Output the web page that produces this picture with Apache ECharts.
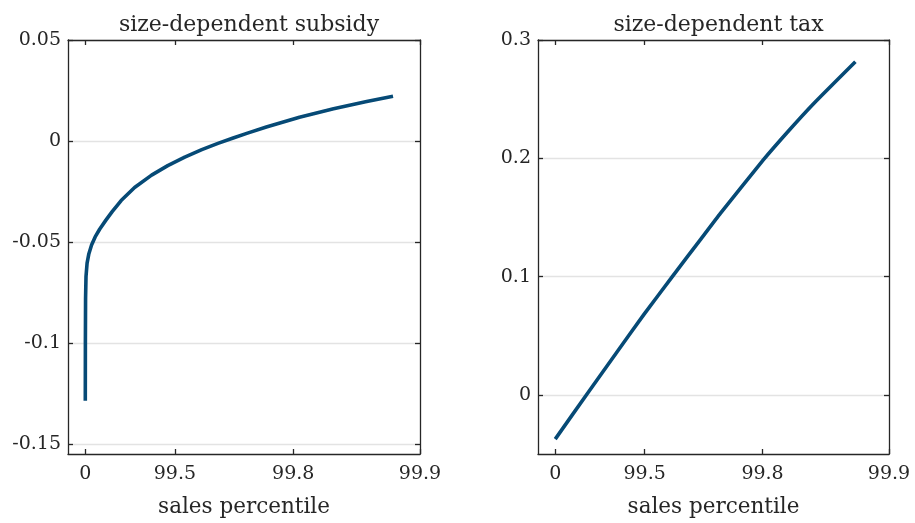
<!DOCTYPE html>
<html>
<head>
<meta charset="utf-8">
<script src="https://cdn.jsdelivr.net/npm/echarts@6/dist/echarts.min.js"></script>
<style>
  html, body { margin: 0; padding: 0; background: #fff; }
  #main { width: 915px; height: 523px; }
</style>
</head>
<body>
<div id="main"></div>
<script>
// x axis is drawn in "tick units": the percentile ticks are not evenly spaced
var xTickPos = [0, 1, 2.32, 3.735]
var xTickLabels = ['0', '99.5', '99.8', '99.9']

// size-dependent subsidy (left panel)
var subsidyX = [0, 0.001, 0.003, 0.008, 0.02, 0.04, 0.07, 0.11, 0.16, 0.23, 0.30, 0.40, 0.55, 0.74, 0.92, 1.11, 1.30, 1.48, 1.65, 1.81, 2.02, 2.39, 2.77, 3.14, 3.434]
var subsidyY = [-0.1286, -0.100, -0.078, -0.067, -0.0605, -0.0558, -0.0515, -0.0475, -0.0437, -0.0392, -0.0350, -0.0295, -0.0230, -0.0169, -0.0122, -0.0080, -0.0043, -0.0012, 0.0015, 0.0039, 0.0069, 0.0117, 0.0160, 0.0196, 0.0222]
var subsidyTicks = [-0.15, -0.1, -0.05, 0, 0.05]

// size-dependent tax (right panel)
var taxX = [0, 0.358, 0.693, 0.993, 1.31, 1.627, 1.848, 2.333, 2.6, 2.893, 3.359]
var taxY = [-0.0374, 0.0010, 0.0365, 0.0680, 0.1000, 0.1315, 0.1535, 0.1990, 0.2222, 0.2463, 0.2816]
var taxTicks = [0, 0.1, 0.2, 0.3]

var lineColor = '#064a76'
var inkColor = '#262626'
var fontFam = 'DejaVu Serif'

function pairs(xs, ys) {
  var out = []
  for (let i = 0; i < xs.length; i++) {
    out.push([xs[i], ys[i]])
  }
  return out
}

function xLabel(v) {
  for (let i = 0; i < xTickPos.length; i++) {
    if (Math.abs(xTickPos[i] - v) < 1e-6) return xTickLabels[i]
  }
  return ''
}

function makeX(gridIndex, pos) {
  let bottom = pos == 'bottom'
  return {
    type: 'value',
    gridIndex: gridIndex,
    position: pos,
    min: -0.193,
    max: 3.735,
    name: bottom ? 'sales percentile' : '',
    nameLocation: 'middle',
    nameGap: 42,
    nameTextStyle: { fontFamily: fontFam, fontSize: 21.5, color: inkColor },
    axisLine: { show: true, onZero: false, lineStyle: { color: inkColor, width: 1.3 } },
    axisTick: { show: true, inside: true, length: 5, customValues: xTickPos, lineStyle: { color: inkColor, width: 1.3 } },
    axisLabel: {
      show: bottom,
      customValues: xTickPos,
      margin: 11,
      fontFamily: fontFam,
      fontSize: 19,
      color: inkColor,
      formatter: xLabel
    },
    splitLine: { show: false }
  }
}

function makeY(gridIndex, pos, min, max, ticks) {
  let left = pos == 'left'
  return {
    type: 'value',
    gridIndex: gridIndex,
    position: pos,
    min: min,
    max: max,
    axisLine: { show: true, onZero: false, lineStyle: { color: inkColor, width: 1.3 } },
    axisTick: { show: true, inside: true, length: 5, customValues: ticks, lineStyle: { color: inkColor, width: 1.3 } },
    axisLabel: {
      show: left,
      customValues: ticks,
      margin: 7,
      fontFamily: fontFam,
      fontSize: 19,
      color: inkColor
    },
    splitLine: { show: left, lineStyle: { color: '#e3e3e3', width: 1.3 } }
  }
}

var chart = echarts.init(document.getElementById('main'), null, { renderer: 'canvas' })

var option = {
  backgroundColor: '#fff',
  animation: false,
  title: [
    {
      text: 'size-dependent subsidy',
      left: 244,
      top: 9,
      textAlign: 'center',
      textStyle: { fontFamily: fontFam, fontSize: 22, fontWeight: 'normal', color: inkColor }
    },
    {
      text: 'size-dependent tax',
      left: 713.5,
      top: 9,
      textAlign: 'center',
      textStyle: { fontFamily: fontFam, fontSize: 22, fontWeight: 'normal', color: inkColor }
    }
  ],
  grid: [
    { left: 68, right: 495, top: 40, bottom: 68, containLabel: false },
    { left: 538, right: 26, top: 40, bottom: 68, containLabel: false }
  ],
  xAxis: [
    makeX(0, 'bottom'),
    makeX(0, 'top'),
    makeX(1, 'bottom'),
    makeX(1, 'top')
  ],
  yAxis: [
    makeY(0, 'left', -0.155, 0.05, subsidyTicks),
    makeY(0, 'right', -0.155, 0.05, subsidyTicks),
    makeY(1, 'left', -0.05, 0.3, taxTicks),
    makeY(1, 'right', -0.05, 0.3, taxTicks)
  ],
  series: [
    {
      name: 'subsidy',
      type: 'line',
      xAxisIndex: 0,
      yAxisIndex: 0,
      data: pairs(subsidyX, subsidyY),
      showSymbol: false,
      smooth: false,
      lineStyle: { color: lineColor, width: 3.6, join: 'round' }
    },
    {
      name: 'tax',
      type: 'line',
      xAxisIndex: 2,
      yAxisIndex: 2,
      data: pairs(taxX, taxY),
      showSymbol: false,
      smooth: 0.15,
      lineStyle: { color: lineColor, width: 3.6, join: 'round' }
    }
  ]
}

chart.setOption(option)
</script>
</body>
</html>
